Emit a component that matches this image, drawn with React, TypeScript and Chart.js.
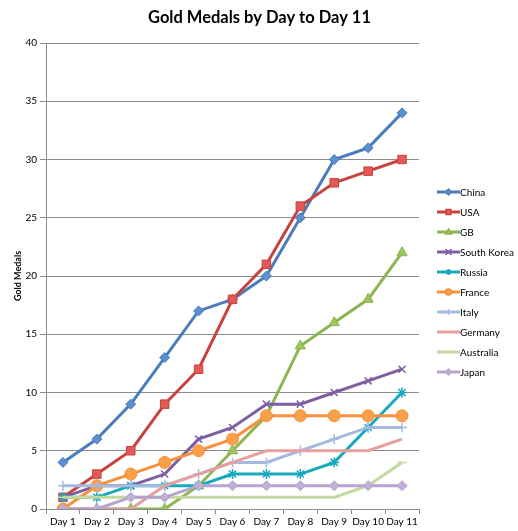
import React, { useEffect, useRef } from "react";
import { Chart, registerables } from "chart.js";

Chart.register(...registerables);

const days = ["Day 1", "Day 2", "Day 3", "Day 4", "Day 5", "Day 6", "Day 7", "Day 8", "Day 9", "Day 10", "Day 11"];
const yTicks = [0, 5, 10, 15, 20, 25, 30, 35, 40];

const china = [4, 6, 9, 13, 17, 18, 20, 25, 30, 31, 34];
const usa = [1, 3, 5, 9, 12, 18, 21, 26, 28, 29, 30];
const gb = [0, 0, 0, 0, 2, 5, 8, 14, 16, 18, 22];
const southKorea = [1, 2, 2, 3, 6, 7, 9, 9, 10, 11, 12];
const russia = [1, 1, 2, 2, 2, 3, 3, 3, 4, 7, 10];
const france = [0, 2, 3, 4, 5, 6, 8, 8, 8, 8, 8];
const italy = [2, 2, 2, 2, 3, 4, 4, 5, 6, 7, 7];
const germany = [0, 0, 0, 2, 3, 4, 5, 5, 5, 5, 6];
const australia = [1, 1, 1, 1, 1, 1, 1, 1, 1, 2, 4];
const japan = [0, 0, 1, 1, 2, 2, 2, 2, 2, 2, 2];

const titleText = "Gold Medals by Day to Day 11";

type S = { label: string; data: number[]; line: string; fill: string; style: any; r: number };

const series: S[] = [
  { label: "China", data: china, line: "#4A7EBB", fill: "#5B8FD0", style: "rectRot", r: 5 },
  { label: "USA", data: usa, line: "#C8433F", fill: "#E25A57", style: "rect", r: 6 },
  { label: "GB", data: gb, line: "#8DB551", fill: "#9CC760", style: "triangle", r: 6 },
  { label: "South Korea", data: southKorea, line: "#7F5FA3", fill: "#7F5FA3", style: "crossRot", r: 5 },
  { label: "Russia", data: russia, line: "#17AABF", fill: "#17AABF", style: "star", r: 5 },
  { label: "France", data: france, line: "#F7913F", fill: "#F9A049", style: "circle", r: 6 },
  { label: "Italy", data: italy, line: "#A4BADF", fill: "#A4BADF", style: "cross", r: 5 },
  { label: "Germany", data: germany, line: "#E6A09E", fill: "#E6A09E", style: false, r: 0 },
  { label: "Australia", data: australia, line: "#C2D9A0", fill: "#C2D9A0", style: "line", r: 5 },
  { label: "Japan", data: japan, line: "#B7A4CE", fill: "#C1AFD6", style: "rectRot", r: 5 },
];

const FONT = "Lato, 'Open Sans', 'DejaVu Sans', sans-serif";

function drawMarker(ctx: CanvasRenderingContext2D, style: any, x: number, y: number, r: number, fill: string, stroke: string) {
  if (!style || r <= 0) return;
  ctx.save();
  ctx.fillStyle = fill;
  ctx.strokeStyle = stroke;
  ctx.lineWidth = 1.5;
  ctx.beginPath();
  if (style === "rectRot") {
    ctx.moveTo(x, y - r); ctx.lineTo(x + r, y); ctx.lineTo(x, y + r); ctx.lineTo(x - r, y); ctx.closePath();
    ctx.fill(); ctx.stroke();
  } else if (style === "rect") {
    ctx.rect(x - r * 0.8, y - r * 0.8, r * 1.6, r * 1.6); ctx.fill(); ctx.stroke();
  } else if (style === "triangle") {
    ctx.moveTo(x, y - r); ctx.lineTo(x + r, y + r * 0.7); ctx.lineTo(x - r, y + r * 0.7); ctx.closePath();
    ctx.fill(); ctx.stroke();
  } else if (style === "circle") {
    ctx.arc(x, y, r, 0, Math.PI * 2); ctx.fill(); ctx.stroke();
  } else if (style === "crossRot") {
    ctx.moveTo(x - r, y - r); ctx.lineTo(x + r, y + r); ctx.moveTo(x - r, y + r); ctx.lineTo(x + r, y - r); ctx.stroke();
  } else if (style === "cross") {
    ctx.moveTo(x - r, y); ctx.lineTo(x + r, y); ctx.moveTo(x, y - r); ctx.lineTo(x, y + r); ctx.stroke();
  } else if (style === "star") {
    ctx.moveTo(x - r, y); ctx.lineTo(x + r, y); ctx.moveTo(x, y - r); ctx.lineTo(x, y + r);
    ctx.moveTo(x - r * 0.7, y - r * 0.7); ctx.lineTo(x + r * 0.7, y + r * 0.7);
    ctx.moveTo(x - r * 0.7, y + r * 0.7); ctx.lineTo(x + r * 0.7, y - r * 0.7); ctx.stroke();
  } else if (style === "line") {
    ctx.moveTo(x - r, y); ctx.lineTo(x + r, y); ctx.stroke();
  }
  ctx.restore();
}

const legendPlugin = {
  id: "customLegend",
  afterDraw(chart: any) {
    const ctx = chart.ctx as CanvasRenderingContext2D;
    const x0 = 437;
    const y0 = 192;
    ctx.save();
    // title centred over the whole picture
    ctx.fillStyle = "#000";
    ctx.font = `bold 16.5px ${FONT}`;
    ctx.textAlign = "center";
    ctx.textBaseline = "middle";
    ctx.fillText(titleText, 259.5, 18);
    series.forEach((s, i) => {
      const y = y0 + i * 20;
      ctx.strokeStyle = s.line;
      ctx.lineWidth = 3;
      ctx.beginPath();
      ctx.moveTo(x0, y);
      ctx.lineTo(x0 + 23, y);
      ctx.stroke();
      drawMarker(ctx, s.style, x0 + 11.5, y, 3, s.fill, s.line);
      ctx.fillStyle = "#000";
      ctx.font = `10px ${FONT}`;
      ctx.textBaseline = "middle";
      ctx.textAlign = "left";
      ctx.fillText(s.label, x0 + 23, y + 1);
    });
    ctx.restore();
  },
};

export default function App() {
  const ref = useRef<HTMLCanvasElement | null>(null);
  useEffect(() => {
    if (!ref.current) return;
    const n = series.length;
    const chart = new Chart(ref.current, {
      type: "line",
      data: {
        labels: days,
        datasets: series.map((s, i) => ({
          label: s.label,
          data: s.data,
          borderColor: s.line,
          backgroundColor: s.fill,
          pointBackgroundColor: s.fill,
          pointBorderColor: s.line,
          pointBorderWidth: s.style === "crossRot" || s.style === "cross" || s.style === "star" || s.style === "line" ? 1.5 : 1,
          pointStyle: s.style,
          pointRadius: s.r,
          borderWidth: 3,
          tension: 0,
          order: n - i,
        })),
      },
      options: {
        animation: false,
        responsive: false,
        maintainAspectRatio: false,
        layout: { padding: { left: 0, right: 99, top: 43, bottom: 0 } },
        plugins: {
          legend: { display: false },
          tooltip: { enabled: false },
          title: { display: false },
        },
        scales: {
          x: {
            offset: true,
            grid: {
              offset: true,
              drawOnChartArea: false,
              drawTicks: true,
              tickLength: 5,
              color: "#8c8c8c",
            },
            border: { color: "#8c8c8c", width: 1 },
            ticks: { color: "#000", font: { family: FONT, size: 10 }, padding: 2, maxRotation: 0, autoSkip: false },
            afterFit(scale: any) { scale.height = 22; },
          },
          y: {
            min: 0,
            max: 40,
            afterBuildTicks(scale: any) { scale.ticks = yTicks.map((v) => ({ value: v })); },
            grid: { color: "#8c8c8c", drawTicks: true, tickLength: 6, lineWidth: 1 },
            border: { color: "#8c8c8c", width: 1 },
            ticks: { color: "#000", font: { family: FONT, size: 10 }, padding: 3 },
            title: {
              display: true,
              text: "Gold Medals",
              color: "#000",
              font: { family: FONT, size: 9, weight: "bold" },
              padding: { top: 13, bottom: 0 },
            },
            afterFit(scale: any) { scale.width = 46; },
          },
        },
      },
      plugins: [legendPlugin],
    });
    return () => chart.destroy();
  }, []);
  return (
    <div style={{ position: "absolute", left: 0, top: 0, width: 518, height: 531, background: "#fff" }}>
      <canvas ref={ref} width={518} height={531} style={{ width: 518, height: 531 }} />
    </div>
  );
}
